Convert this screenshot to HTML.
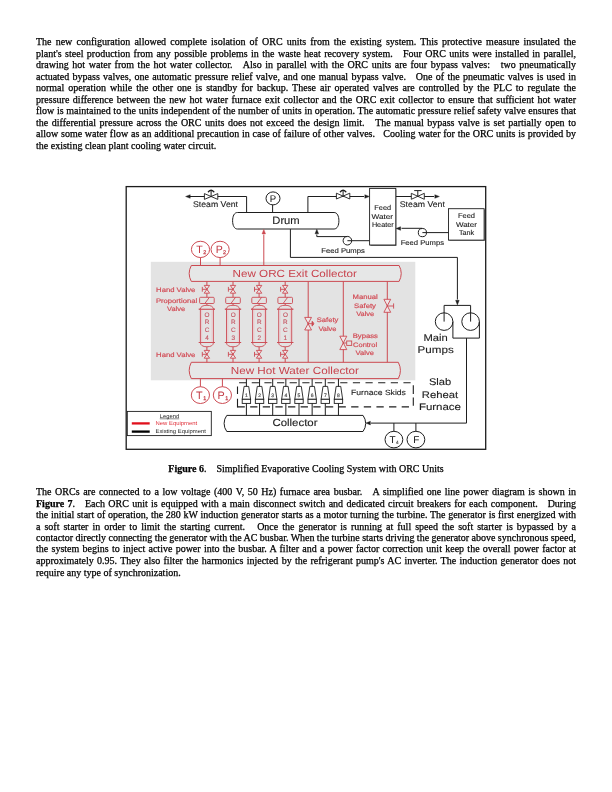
<!DOCTYPE html>
<html><head><meta charset="utf-8"><style>
html,body{margin:0;padding:0;background:#fff;}
body{width:612px;height:792px;position:relative;overflow:hidden;font-family:"Liberation Serif",serif;color:#000;}
.l{position:absolute;left:36px;width:540px;font-size:10px;-webkit-text-stroke:0.25px #000;line-height:11.5px;white-space:nowrap;text-align:justify;text-align-last:justify;}
.l.last{text-align-last:left;}
.cap{-webkit-text-stroke:0.25px #000;position:absolute;left:0;width:612px;text-align:center;font-size:10px;line-height:11.5px;}
svg{position:absolute;left:0;top:0;}
body>*{will-change:transform;}
</style></head><body>
<div class="l" style="top:36.00px">The new configuration allowed complete isolation of ORC units from the existing system. This protective measure insulated the</div>
<div class="l" style="top:48.00px">plant's steel production from any possible problems in the waste heat recovery system. &nbsp; Four ORC units were installed in parallel,</div>
<div class="l" style="top:59.00px">drawing hot water from the hot water collector. &nbsp; Also in parallel with the ORC units are four bypass valves: &nbsp; two pneumatically</div>
<div class="l" style="top:71.00px">actuated bypass valves, one automatic pressure relief valve, and one manual bypass valve. &nbsp; One of the pneumatic valves is used in</div>
<div class="l" style="top:82.00px">normal operation while the other one is standby for backup. These air operated valves are controlled by the PLC to regulate the</div>
<div class="l" style="top:94.00px">pressure difference between the new hot water furnace exit collector and the ORC exit collector to ensure that sufficient hot water</div>
<div class="l" style="top:105.00px">flow is maintained to the units independent of the number of units in operation. The automatic pressure relief safety valve ensures that</div>
<div class="l" style="top:117.00px">the differential pressure across the ORC units does not exceed the design limit. &nbsp; The manual bypass valve is set partially open to</div>
<div class="l" style="top:128.00px">allow some water flow as an additional precaution in case of failure of other valves. &nbsp; Cooling water for the ORC units is provided by</div>
<div class="l last" style="top:140.00px">the existing clean plant cooling water circuit.</div>
<svg width="612" height="792" viewBox="0 0 612 792" style="position:absolute;left:0;top:0" font-family="Liberation Sans, sans-serif" text-rendering="geometricPrecision">
<rect x="150.8" y="261.8" width="264.5" height="118.5" fill="#e3e3e3"/>
<rect x="126.2" y="186.6" width="359.5" height="262.7" fill="none" stroke="#1c1c1c" stroke-width="1.3"/>
<polyline points="246.6,212.5 246.6,196.5 188,196.5" stroke="#1e1e1e" stroke-width="1.0" fill="none" />
<polygon points="185.6,196.5 190.2,194.7 190.2,198.3" stroke="#1e1e1e" stroke-width="0.4" fill="#1e1e1e"/>
<polygon points="204.4,193.6 217.79999999999998,199.4 217.79999999999998,193.6 204.4,199.4" stroke="#1e1e1e" stroke-width="0.9" fill="#fff"/>
<line x1="211.1" y1="196.5" x2="211.1" y2="190.6" stroke="#1e1e1e" stroke-width="1.0" />
<path d="M208.4,191.7 Q211.1,188.7 213.8,191.7" stroke="#1e1e1e" stroke-width="1.4" fill="none" stroke-linecap="round"/>
<text x="193" y="206.7" font-size="8.2" fill="#1e1e1e" stroke="#1e1e1e" stroke-width="0.12" textLength="45" lengthAdjust="spacingAndGlyphs" >Steam Vent</text>
<ellipse cx="273" cy="198.4" rx="7" ry="6.5" stroke="#1e1e1e" stroke-width="1.0" fill="none"/>
<line x1="272.6" y1="204.9" x2="272.6" y2="212.5" stroke="#1e1e1e" stroke-width="1.0" />
<text x="272.9" y="201.8" font-size="9.6" fill="#111" stroke="#111" stroke-width="0" text-anchor="middle">P</text>
<path d="M237.4,212.5 H334.09999999999997 C337.21999999999997,212.5 338.9,216.13 338.9,220.75 C338.9,225.37 337.21999999999997,229.0 334.09999999999997,229.0 H237.4 C234.28,229.0 232.6,225.37 232.6,220.75 C232.6,216.13 234.28,212.5 237.4,212.5 Z" stroke="#1e1e1e" stroke-width="1.0" fill="#fff"/>
<text x="272.3" y="223.7" font-size="10.7" fill="#1e1e1e" stroke="#1e1e1e" stroke-width="0.12" textLength="27.4" lengthAdjust="spacingAndGlyphs" >Drum</text>
<polyline points="307.9,212.5 307.9,196.5 364,196.5" stroke="#1e1e1e" stroke-width="1.0" fill="none" />
<polygon points="369.4,196.5 364.79999999999995,194.7 364.79999999999995,198.3" stroke="#1e1e1e" stroke-width="0.4" fill="#1e1e1e"/>
<polygon points="336.40000000000003,193.2 349.8,199.0 349.8,193.2 336.40000000000003,199.0" stroke="#1e1e1e" stroke-width="0.9" fill="#fff"/>
<line x1="343.1" y1="196.1" x2="343.1" y2="190.6" stroke="#1e1e1e" stroke-width="1.0" />
<path d="M340.4,191.7 Q343.1,188.7 345.8,191.7" stroke="#1e1e1e" stroke-width="1.4" fill="none" stroke-linecap="round"/>
<rect x="370.4" y="189.4" width="26" height="56.6" fill="#777"/>
<rect x="369.6" y="188.4" width="26.2" height="56.6" fill="#fff" stroke="#1e1e1e" stroke-width="0.9"/>
<text x="374.3" y="209.6" font-size="7.0" fill="#1e1e1e" stroke="#1e1e1e" stroke-width="0.12" textLength="16.8" lengthAdjust="spacingAndGlyphs" >Feed</text>
<text x="371.5" y="218.7" font-size="7.0" fill="#1e1e1e" stroke="#1e1e1e" stroke-width="0.12" textLength="21.6" lengthAdjust="spacingAndGlyphs" >Water</text>
<text x="371.9" y="226.9" font-size="7.0" fill="#1e1e1e" stroke="#1e1e1e" stroke-width="0.12" textLength="21.7" lengthAdjust="spacingAndGlyphs" >Heater</text>
<line x1="396" y1="196.5" x2="434" y2="196.5" stroke="#1e1e1e" stroke-width="1.0" />
<polygon points="439.4,196.5 434.79999999999995,194.7 434.79999999999995,198.3" stroke="#1e1e1e" stroke-width="0.4" fill="#1e1e1e"/>
<polygon points="411.3,193.3 424.3,199.3 424.3,193.3 411.3,199.3" stroke="#1e1e1e" stroke-width="0.9" fill="#fff"/>
<line x1="417.8" y1="196.3" x2="417.8" y2="190.6" stroke="#1e1e1e" stroke-width="1.0" />
<line x1="414.2" y1="190.6" x2="421.6" y2="190.6" stroke="#1e1e1e" stroke-width="1.0" />
<text x="399.8" y="206.6" font-size="8.2" fill="#1e1e1e" stroke="#1e1e1e" stroke-width="0.12" textLength="45.1" lengthAdjust="spacingAndGlyphs" >Steam Vent</text>
<rect x="449.3" y="209.5" width="35.6" height="31.4" fill="#777"/>
<rect x="448.5" y="208.7" width="35.6" height="31.4" fill="#fff" stroke="#1e1e1e" stroke-width="0.9"/>
<text x="457.9" y="218.3" font-size="7.0" fill="#1e1e1e" stroke="#1e1e1e" stroke-width="0.12" textLength="17.1" lengthAdjust="spacingAndGlyphs" >Feed</text>
<text x="455.9" y="226.9" font-size="7.0" fill="#1e1e1e" stroke="#1e1e1e" stroke-width="0.12" textLength="21.1" lengthAdjust="spacingAndGlyphs" >Water</text>
<text x="458.9" y="235.3" font-size="7.0" fill="#1e1e1e" stroke="#1e1e1e" stroke-width="0.12" textLength="15.3" lengthAdjust="spacingAndGlyphs" >Tank</text>
<line x1="448.5" y1="232.6" x2="422.4" y2="232.6" stroke="#1e1e1e" stroke-width="1.0" />
<polyline points="422.4,228.3 401.5,228.3" stroke="#1e1e1e" stroke-width="1.0" fill="none" />
<polygon points="396,228.5 400.6,226.7 400.6,230.3" stroke="#1e1e1e" stroke-width="0.4" fill="#1e1e1e"/>
<circle cx="422.4" cy="232.6" r="4.1" stroke="#1e1e1e" stroke-width="1.0" fill="none"/>
<text x="400.7" y="244.6" font-size="6.9" fill="#1e1e1e" stroke="#1e1e1e" stroke-width="0.12" textLength="43.4" lengthAdjust="spacingAndGlyphs" >Feed Pumps</text>
<line x1="369.4" y1="240.7" x2="347.4" y2="240.7" stroke="#1e1e1e" stroke-width="1.0" />
<polyline points="347.4,236.6 316.8,236.6 316.8,234.5" stroke="#1e1e1e" stroke-width="1.0" fill="none" />
<polygon points="316.8,229.2 315.0,233.79999999999998 318.6,233.79999999999998" stroke="#1e1e1e" stroke-width="0.4" fill="#1e1e1e"/>
<circle cx="347.4" cy="240.7" r="4.3" stroke="#1e1e1e" stroke-width="1.0" fill="none"/>
<text x="321.3" y="252.7" font-size="6.9" fill="#1e1e1e" stroke="#1e1e1e" stroke-width="0.12" textLength="43.6" lengthAdjust="spacingAndGlyphs" >Feed Pumps</text>
<polyline points="290.4,229.1 290.4,257.4 457.4,257.4 457.4,299.5" stroke="#1e1e1e" stroke-width="1.0" fill="none" />
<polygon points="457.4,304.9 455.59999999999997,300.29999999999995 459.2,300.29999999999995" stroke="#1e1e1e" stroke-width="0.4" fill="#1e1e1e"/>
<polyline points="444.1,321.6 444.1,305.4 470.6,305.4 470.6,321.6" stroke="#1e1e1e" stroke-width="1.0" fill="none" />
<circle cx="444.1" cy="321.6" r="8.8" stroke="#1e1e1e" stroke-width="1.0" fill="none"/>
<circle cx="470.6" cy="321.6" r="8.8" stroke="#1e1e1e" stroke-width="1.0" fill="none"/>
<polyline points="452.9,321.6 452.9,338.1 479.4,338.1 479.4,321.6" stroke="#1e1e1e" stroke-width="1.0" fill="none" />
<polyline points="466.5,338.1 466.5,423.1 371,423.1" stroke="#1e1e1e" stroke-width="1.0" fill="none" />
<polygon points="365.8,423.1 370.40000000000003,421.3 370.40000000000003,424.90000000000003" stroke="#1e1e1e" stroke-width="0.4" fill="#1e1e1e"/>
<text x="423.5" y="340.7" font-size="9.9" fill="#1e1e1e" stroke="#1e1e1e" stroke-width="0.12" textLength="24.3" lengthAdjust="spacingAndGlyphs" >Main</text>
<text x="417.6" y="353.2" font-size="9.9" fill="#1e1e1e" stroke="#1e1e1e" stroke-width="0.12" textLength="36.1" lengthAdjust="spacingAndGlyphs" >Pumps</text>
<text x="428.9" y="384.7" font-size="9.6" fill="#1e1e1e" stroke="#1e1e1e" stroke-width="0.12" textLength="22.3" lengthAdjust="spacingAndGlyphs" >Slab</text>
<text x="421.8" y="397.5" font-size="9.6" fill="#1e1e1e" stroke="#1e1e1e" stroke-width="0.12" textLength="36.3" lengthAdjust="spacingAndGlyphs" >Reheat</text>
<text x="418.9" y="410.4" font-size="9.6" fill="#1e1e1e" stroke="#1e1e1e" stroke-width="0.12" textLength="42.1" lengthAdjust="spacingAndGlyphs" >Furnace</text>
<line x1="393.9" y1="423.1" x2="393.9" y2="431.3" stroke="#1e1e1e" stroke-width="1.0" />
<line x1="415.9" y1="423.1" x2="415.9" y2="431.3" stroke="#1e1e1e" stroke-width="1.0" />
<ellipse cx="393.9" cy="439.6" rx="8.9" ry="8.3" stroke="#1e1e1e" stroke-width="1.0" fill="none"/>
<ellipse cx="415.9" cy="439.6" rx="8.9" ry="8.3" stroke="#1e1e1e" stroke-width="1.0" fill="none"/>
<text x="392.5" y="442.7" font-size="10" fill="#111" stroke="#111" stroke-width="0" text-anchor="middle">T</text>
<text x="397.4" y="443.8" font-size="4.6" fill="#555" stroke="#555" stroke-width="0.2" text-anchor="middle">4</text>
<text x="416.2" y="442.7" font-size="10" fill="#111" stroke="#111" stroke-width="0" text-anchor="middle">F</text>
<line x1="239.1" y1="382.7" x2="413.3" y2="382.7" stroke="#1e1e1e" stroke-width="1.1" stroke-dasharray="7.2 5.44"/>
<line x1="237.5" y1="406.9" x2="413.3" y2="406.9" stroke="#1e1e1e" stroke-width="1.1" stroke-dasharray="7.3 5.33"/>
<line x1="237.5" y1="407.4" x2="237.5" y2="382.8" stroke="#1e1e1e" stroke-width="1.1" stroke-dasharray="8.6 4.9 7.4 10"/>
<line x1="413.3" y1="385.3" x2="413.3" y2="394" stroke="#1e1e1e" stroke-width="1.1" />
<line x1="413.3" y1="397.6" x2="413.3" y2="405.7" stroke="#1e1e1e" stroke-width="1.1" />
<path d="M226.79999999999998,415.4 H363.0 A13.35,13.35 0 0 1 363.0,431.5 H226.79999999999998 A13.35,13.35 0 0 1 226.79999999999998,415.4 Z" stroke="#1e1e1e" stroke-width="1.0" fill="#fff" stroke-linejoin="round"/>
<text x="272.4" y="426.4" font-size="10.2" fill="#1e1e1e" stroke="#1e1e1e" stroke-width="0.12" textLength="45.1" lengthAdjust="spacingAndGlyphs" >Collector</text>
<line x1="246.4" y1="378.6" x2="246.4" y2="415.4" stroke="#1e1e1e" stroke-width="1.0" />
<path d="M244.1,386.4 H248.70000000000002 L250.6,399.3 H242.20000000000002 Z" stroke="#1e1e1e" stroke-width="0.9" fill="#fff" stroke-linejoin="round"/>
<rect x="242.20000000000002" y="399.3" width="8.4" height="4.1" stroke="#1e1e1e" stroke-width="0.9" fill="#fff"/>
<text x="246.4" y="396.6" font-size="5" fill="#555" stroke="#555" stroke-width="0.22" text-anchor="middle" >1</text>
<line x1="259.55" y1="378.6" x2="259.55" y2="415.4" stroke="#1e1e1e" stroke-width="1.0" />
<path d="M257.25,386.4 H261.85 L263.75,399.3 H255.35000000000002 Z" stroke="#1e1e1e" stroke-width="0.9" fill="#fff" stroke-linejoin="round"/>
<rect x="255.35000000000002" y="399.3" width="8.4" height="4.1" stroke="#1e1e1e" stroke-width="0.9" fill="#fff"/>
<text x="259.55" y="396.6" font-size="5" fill="#555" stroke="#555" stroke-width="0.22" text-anchor="middle" >2</text>
<line x1="272.7" y1="378.6" x2="272.7" y2="415.4" stroke="#1e1e1e" stroke-width="1.0" />
<path d="M270.4,386.4 H275.0 L276.9,399.3 H268.5 Z" stroke="#1e1e1e" stroke-width="0.9" fill="#fff" stroke-linejoin="round"/>
<rect x="268.5" y="399.3" width="8.4" height="4.1" stroke="#1e1e1e" stroke-width="0.9" fill="#fff"/>
<text x="272.7" y="396.6" font-size="5" fill="#555" stroke="#555" stroke-width="0.22" text-anchor="middle" >3</text>
<line x1="285.85" y1="378.6" x2="285.85" y2="415.4" stroke="#1e1e1e" stroke-width="1.0" />
<path d="M283.55,386.4 H288.15000000000003 L290.05,399.3 H281.65000000000003 Z" stroke="#1e1e1e" stroke-width="0.9" fill="#fff" stroke-linejoin="round"/>
<rect x="281.65000000000003" y="399.3" width="8.4" height="4.1" stroke="#1e1e1e" stroke-width="0.9" fill="#fff"/>
<text x="285.85" y="396.6" font-size="5" fill="#555" stroke="#555" stroke-width="0.22" text-anchor="middle" >4</text>
<line x1="299.0" y1="378.6" x2="299.0" y2="415.4" stroke="#1e1e1e" stroke-width="1.0" />
<path d="M296.7,386.4 H301.3 L303.2,399.3 H294.8 Z" stroke="#1e1e1e" stroke-width="0.9" fill="#fff" stroke-linejoin="round"/>
<rect x="294.8" y="399.3" width="8.4" height="4.1" stroke="#1e1e1e" stroke-width="0.9" fill="#fff"/>
<text x="299.0" y="396.6" font-size="5" fill="#555" stroke="#555" stroke-width="0.22" text-anchor="middle" >5</text>
<line x1="312.15" y1="378.6" x2="312.15" y2="415.4" stroke="#1e1e1e" stroke-width="1.0" />
<path d="M309.84999999999997,386.4 H314.45 L316.34999999999997,399.3 H307.95 Z" stroke="#1e1e1e" stroke-width="0.9" fill="#fff" stroke-linejoin="round"/>
<rect x="307.95" y="399.3" width="8.4" height="4.1" stroke="#1e1e1e" stroke-width="0.9" fill="#fff"/>
<text x="312.15" y="396.6" font-size="5" fill="#555" stroke="#555" stroke-width="0.22" text-anchor="middle" >6</text>
<line x1="325.3" y1="378.6" x2="325.3" y2="415.4" stroke="#1e1e1e" stroke-width="1.0" />
<path d="M323.0,386.4 H327.6 L329.5,399.3 H321.1 Z" stroke="#1e1e1e" stroke-width="0.9" fill="#fff" stroke-linejoin="round"/>
<rect x="321.1" y="399.3" width="8.4" height="4.1" stroke="#1e1e1e" stroke-width="0.9" fill="#fff"/>
<text x="325.3" y="396.6" font-size="5" fill="#555" stroke="#555" stroke-width="0.22" text-anchor="middle" >7</text>
<line x1="338.45" y1="378.6" x2="338.45" y2="415.4" stroke="#1e1e1e" stroke-width="1.0" />
<path d="M336.15,386.4 H340.75 L342.65,399.3 H334.25 Z" stroke="#1e1e1e" stroke-width="0.9" fill="#fff" stroke-linejoin="round"/>
<rect x="334.25" y="399.3" width="8.4" height="4.1" stroke="#1e1e1e" stroke-width="0.9" fill="#fff"/>
<text x="338.45" y="396.6" font-size="5" fill="#555" stroke="#555" stroke-width="0.22" text-anchor="middle" >8</text>
<text x="351" y="394.6" font-size="7.6" fill="#1e1e1e" stroke="#1e1e1e" stroke-width="0.12" textLength="54.9" lengthAdjust="spacingAndGlyphs" >Furnace Skids</text>
<rect x="127.3" y="411.4" width="84" height="24.2" fill="#fff" stroke="#1e1e1e" stroke-width="0.9"/>
<text x="159.8" y="417.9" font-size="5.5" fill="#1e1e1e" stroke="#1e1e1e" stroke-width="0" textLength="19.4" lengthAdjust="spacingAndGlyphs" >Legend</text>
<line x1="159.8" y1="418.8" x2="179.2" y2="418.8" stroke="#1e1e1e" stroke-width="0.5" />
<line x1="131.8" y1="423.4" x2="149.7" y2="423.4" stroke="#e0101c" stroke-width="2.3" />
<line x1="131.8" y1="431.6" x2="149.7" y2="431.6" stroke="#000" stroke-width="2.3" />
<text x="155.5" y="425.0" font-size="5.6" fill="#e0303a" stroke="#e0303a" stroke-width="0" textLength="41.7" lengthAdjust="spacingAndGlyphs" >New Equipment</text>
<text x="155.5" y="433.0" font-size="5.6" fill="#1e1e1e" stroke="#1e1e1e" stroke-width="0" textLength="50.4" lengthAdjust="spacingAndGlyphs" >Existing Equipment</text>
<ellipse cx="200.5" cy="249.4" rx="9.1" ry="8.15" stroke="#cc4a52" stroke-width="1.0" fill="none"/>
<ellipse cx="220.1" cy="249.4" rx="9.1" ry="8.15" stroke="#cc4a52" stroke-width="1.0" fill="none"/>
<line x1="200.5" y1="257.5" x2="200.5" y2="265.3" stroke="#cc4a52" stroke-width="1.0" />
<line x1="220.1" y1="257.5" x2="220.1" y2="265.3" stroke="#cc4a52" stroke-width="1.0" />
<text x="199.5" y="253.1" font-size="10.6" fill="#c23a44" stroke="#c23a44" stroke-width="0" text-anchor="middle">T</text>
<text x="204.8" y="254.1" font-size="5.4" fill="#c23a44" stroke="#c23a44" stroke-width="0.25" text-anchor="middle">2</text>
<text x="219.2" y="253.1" font-size="10.6" fill="#c23a44" stroke="#c23a44" stroke-width="0" text-anchor="middle">P</text>
<text x="224.5" y="254.1" font-size="5.4" fill="#c23a44" stroke="#c23a44" stroke-width="0.25" text-anchor="middle">2</text>
<line x1="263.8" y1="265.3" x2="263.8" y2="234.5" stroke="#cc4a52" stroke-width="1.0" />
<polygon points="263.8,229.3 262.0,233.9 265.6,233.9" stroke="#cc4a52" stroke-width="0.4" fill="#cc4a52"/>
<path d="M191.3,265.5 H399.1 A16.80,16.80 0 0 1 399.1,281.4 H191.3 A16.80,16.80 0 0 1 191.3,265.5 Z" stroke="#cc4a52" stroke-width="1.0" fill="#e6e7e7" stroke-linejoin="round"/>
<text x="232.5" y="276.7" font-size="10.3" fill="#c8424c" stroke="#c8424c" stroke-width="0" textLength="124.4" lengthAdjust="spacingAndGlyphs" >New ORC Exit Collector</text>
<path d="M191.3,362.3 H398.3 A17.61,17.61 0 0 1 398.3,378.6 H191.3 A17.61,17.61 0 0 1 191.3,362.3 Z" stroke="#cc4a52" stroke-width="1.0" fill="#e6e7e7" stroke-linejoin="round"/>
<text x="230.7" y="373.7" font-size="10.3" fill="#c8424c" stroke="#c8424c" stroke-width="0" textLength="128.2" lengthAdjust="spacingAndGlyphs" >New Hot Water Collector</text>
<line x1="206.9" y1="281.5" x2="206.9" y2="362.2" stroke="#cc4a52" stroke-width="1.0" />
<polygon points="204.20000000000002,285.40000000000003 209.6,285.40000000000003 204.20000000000002,293.2 209.6,293.2" stroke="#cc4a52" stroke-width="0.9" fill="#efe6e7"/>
<line x1="202.3" y1="289.3" x2="206.9" y2="289.3" stroke="#cc4a52" stroke-width="0.9" />
<line x1="202.3" y1="286.90000000000003" x2="202.3" y2="291.7" stroke="#cc4a52" stroke-width="0.9" />
<polygon points="204.20000000000002,350.40000000000003 209.6,350.40000000000003 204.20000000000002,358.2 209.6,358.2" stroke="#cc4a52" stroke-width="0.9" fill="#efe6e7"/>
<line x1="202.3" y1="354.3" x2="206.9" y2="354.3" stroke="#cc4a52" stroke-width="0.9" />
<line x1="202.3" y1="351.90000000000003" x2="202.3" y2="356.7" stroke="#cc4a52" stroke-width="0.9" />
<rect x="199.6" y="297.3" width="14.6" height="6.2" rx="1" stroke="#cc4a52" stroke-width="0.9" fill="#e3e3e3"/>
<line x1="204.8" y1="303.5" x2="209.4" y2="297.3" stroke="#cc4a52" stroke-width="0.9" />
<path d="M200.4,309.2 V342.5 H213.4 V309.2 Z" stroke="#cc4a52" stroke-width="0.9" fill="#e3e3e3"/>
<line x1="201.70000000000002" y1="309.8" x2="201.70000000000002" y2="342" stroke="#ecc4c9" stroke-width="0.9" />
<line x1="212.1" y1="309.8" x2="212.1" y2="342" stroke="#ecc4c9" stroke-width="0.9" />
<path d="M198.8,309.2 L200.3,309.2 Q200.70000000000002,305.3 206.9,305.3 Q213.1,305.3 213.5,309.2 L215.0,309.2 Z" stroke="#cc4a52" stroke-width="0.9" fill="#e3e3e3"/>
<path d="M198.8,342.5 L200.3,342.5 Q200.70000000000002,346.8 206.9,346.8 Q213.1,346.8 213.5,342.5 L215.0,342.5 Z" stroke="#cc4a52" stroke-width="0.9" fill="#e3e3e3"/>
<text x="207.1" y="316.6" font-size="6.4" fill="#c65562" stroke="#c65562" stroke-width="0.12" text-anchor="middle">O</text>
<text x="207.1" y="324.3" font-size="6.4" fill="#c65562" stroke="#c65562" stroke-width="0.12" text-anchor="middle">R</text>
<text x="207.1" y="332.0" font-size="6.4" fill="#c65562" stroke="#c65562" stroke-width="0.12" text-anchor="middle">C</text>
<text x="207.1" y="339.70000000000005" font-size="6.4" fill="#c65562" stroke="#c65562" stroke-width="0.12" text-anchor="middle">4</text>
<line x1="233.0" y1="281.5" x2="233.0" y2="362.2" stroke="#cc4a52" stroke-width="1.0" />
<polygon points="230.3,285.40000000000003 235.7,285.40000000000003 230.3,293.2 235.7,293.2" stroke="#cc4a52" stroke-width="0.9" fill="#efe6e7"/>
<line x1="228.4" y1="289.3" x2="233.0" y2="289.3" stroke="#cc4a52" stroke-width="0.9" />
<line x1="228.4" y1="286.90000000000003" x2="228.4" y2="291.7" stroke="#cc4a52" stroke-width="0.9" />
<polygon points="230.3,350.40000000000003 235.7,350.40000000000003 230.3,358.2 235.7,358.2" stroke="#cc4a52" stroke-width="0.9" fill="#efe6e7"/>
<line x1="228.4" y1="354.3" x2="233.0" y2="354.3" stroke="#cc4a52" stroke-width="0.9" />
<line x1="228.4" y1="351.90000000000003" x2="228.4" y2="356.7" stroke="#cc4a52" stroke-width="0.9" />
<rect x="225.7" y="297.3" width="14.6" height="6.2" rx="1" stroke="#cc4a52" stroke-width="0.9" fill="#e3e3e3"/>
<line x1="230.9" y1="303.5" x2="235.5" y2="297.3" stroke="#cc4a52" stroke-width="0.9" />
<path d="M226.5,309.2 V342.5 H239.5 V309.2 Z" stroke="#cc4a52" stroke-width="0.9" fill="#e3e3e3"/>
<line x1="227.8" y1="309.8" x2="227.8" y2="342" stroke="#ecc4c9" stroke-width="0.9" />
<line x1="238.2" y1="309.8" x2="238.2" y2="342" stroke="#ecc4c9" stroke-width="0.9" />
<path d="M224.9,309.2 L226.4,309.2 Q226.8,305.3 233.0,305.3 Q239.2,305.3 239.6,309.2 L241.1,309.2 Z" stroke="#cc4a52" stroke-width="0.9" fill="#e3e3e3"/>
<path d="M224.9,342.5 L226.4,342.5 Q226.8,346.8 233.0,346.8 Q239.2,346.8 239.6,342.5 L241.1,342.5 Z" stroke="#cc4a52" stroke-width="0.9" fill="#e3e3e3"/>
<text x="233.2" y="316.6" font-size="6.4" fill="#c65562" stroke="#c65562" stroke-width="0.12" text-anchor="middle">O</text>
<text x="233.2" y="324.3" font-size="6.4" fill="#c65562" stroke="#c65562" stroke-width="0.12" text-anchor="middle">R</text>
<text x="233.2" y="332.0" font-size="6.4" fill="#c65562" stroke="#c65562" stroke-width="0.12" text-anchor="middle">C</text>
<text x="233.2" y="339.70000000000005" font-size="6.4" fill="#c65562" stroke="#c65562" stroke-width="0.12" text-anchor="middle">3</text>
<line x1="259.1" y1="281.5" x2="259.1" y2="362.2" stroke="#cc4a52" stroke-width="1.0" />
<polygon points="256.40000000000003,285.40000000000003 261.8,285.40000000000003 256.40000000000003,293.2 261.8,293.2" stroke="#cc4a52" stroke-width="0.9" fill="#efe6e7"/>
<line x1="254.50000000000003" y1="289.3" x2="259.1" y2="289.3" stroke="#cc4a52" stroke-width="0.9" />
<line x1="254.50000000000003" y1="286.90000000000003" x2="254.50000000000003" y2="291.7" stroke="#cc4a52" stroke-width="0.9" />
<polygon points="256.40000000000003,350.40000000000003 261.8,350.40000000000003 256.40000000000003,358.2 261.8,358.2" stroke="#cc4a52" stroke-width="0.9" fill="#efe6e7"/>
<line x1="254.50000000000003" y1="354.3" x2="259.1" y2="354.3" stroke="#cc4a52" stroke-width="0.9" />
<line x1="254.50000000000003" y1="351.90000000000003" x2="254.50000000000003" y2="356.7" stroke="#cc4a52" stroke-width="0.9" />
<rect x="251.8" y="297.3" width="14.6" height="6.2" rx="1" stroke="#cc4a52" stroke-width="0.9" fill="#e3e3e3"/>
<line x1="257.0" y1="303.5" x2="261.6" y2="297.3" stroke="#cc4a52" stroke-width="0.9" />
<path d="M252.60000000000002,309.2 V342.5 H265.6 V309.2 Z" stroke="#cc4a52" stroke-width="0.9" fill="#e3e3e3"/>
<line x1="253.90000000000003" y1="309.8" x2="253.90000000000003" y2="342" stroke="#ecc4c9" stroke-width="0.9" />
<line x1="264.3" y1="309.8" x2="264.3" y2="342" stroke="#ecc4c9" stroke-width="0.9" />
<path d="M251.00000000000003,309.2 L252.50000000000003,309.2 Q252.90000000000003,305.3 259.1,305.3 Q265.3,305.3 265.70000000000005,309.2 L267.20000000000005,309.2 Z" stroke="#cc4a52" stroke-width="0.9" fill="#e3e3e3"/>
<path d="M251.00000000000003,342.5 L252.50000000000003,342.5 Q252.90000000000003,346.8 259.1,346.8 Q265.3,346.8 265.70000000000005,342.5 L267.20000000000005,342.5 Z" stroke="#cc4a52" stroke-width="0.9" fill="#e3e3e3"/>
<text x="259.3" y="316.6" font-size="6.4" fill="#c65562" stroke="#c65562" stroke-width="0.12" text-anchor="middle">O</text>
<text x="259.3" y="324.3" font-size="6.4" fill="#c65562" stroke="#c65562" stroke-width="0.12" text-anchor="middle">R</text>
<text x="259.3" y="332.0" font-size="6.4" fill="#c65562" stroke="#c65562" stroke-width="0.12" text-anchor="middle">C</text>
<text x="259.3" y="339.70000000000005" font-size="6.4" fill="#c65562" stroke="#c65562" stroke-width="0.12" text-anchor="middle">2</text>
<line x1="285.2" y1="281.5" x2="285.2" y2="362.2" stroke="#cc4a52" stroke-width="1.0" />
<polygon points="282.5,285.40000000000003 287.9,285.40000000000003 282.5,293.2 287.9,293.2" stroke="#cc4a52" stroke-width="0.9" fill="#efe6e7"/>
<line x1="280.59999999999997" y1="289.3" x2="285.2" y2="289.3" stroke="#cc4a52" stroke-width="0.9" />
<line x1="280.59999999999997" y1="286.90000000000003" x2="280.59999999999997" y2="291.7" stroke="#cc4a52" stroke-width="0.9" />
<polygon points="282.5,350.40000000000003 287.9,350.40000000000003 282.5,358.2 287.9,358.2" stroke="#cc4a52" stroke-width="0.9" fill="#efe6e7"/>
<line x1="280.59999999999997" y1="354.3" x2="285.2" y2="354.3" stroke="#cc4a52" stroke-width="0.9" />
<line x1="280.59999999999997" y1="351.90000000000003" x2="280.59999999999997" y2="356.7" stroke="#cc4a52" stroke-width="0.9" />
<rect x="277.9" y="297.3" width="14.6" height="6.2" rx="1" stroke="#cc4a52" stroke-width="0.9" fill="#e3e3e3"/>
<line x1="283.09999999999997" y1="303.5" x2="287.7" y2="297.3" stroke="#cc4a52" stroke-width="0.9" />
<path d="M278.7,309.2 V342.5 H291.7 V309.2 Z" stroke="#cc4a52" stroke-width="0.9" fill="#e3e3e3"/>
<line x1="280.0" y1="309.8" x2="280.0" y2="342" stroke="#ecc4c9" stroke-width="0.9" />
<line x1="290.4" y1="309.8" x2="290.4" y2="342" stroke="#ecc4c9" stroke-width="0.9" />
<path d="M277.09999999999997,309.2 L278.59999999999997,309.2 Q279.0,305.3 285.2,305.3 Q291.4,305.3 291.8,309.2 L293.3,309.2 Z" stroke="#cc4a52" stroke-width="0.9" fill="#e3e3e3"/>
<path d="M277.09999999999997,342.5 L278.59999999999997,342.5 Q279.0,346.8 285.2,346.8 Q291.4,346.8 291.8,342.5 L293.3,342.5 Z" stroke="#cc4a52" stroke-width="0.9" fill="#e3e3e3"/>
<text x="285.4" y="316.6" font-size="6.4" fill="#c65562" stroke="#c65562" stroke-width="0.12" text-anchor="middle">O</text>
<text x="285.4" y="324.3" font-size="6.4" fill="#c65562" stroke="#c65562" stroke-width="0.12" text-anchor="middle">R</text>
<text x="285.4" y="332.0" font-size="6.4" fill="#c65562" stroke="#c65562" stroke-width="0.12" text-anchor="middle">C</text>
<text x="285.4" y="339.70000000000005" font-size="6.4" fill="#c65562" stroke="#c65562" stroke-width="0.12" text-anchor="middle">1</text>
<line x1="308.2" y1="281.5" x2="308.2" y2="362.2" stroke="#cc4a52" stroke-width="1.0" />
<line x1="343.3" y1="281.5" x2="343.3" y2="362.2" stroke="#cc4a52" stroke-width="1.0" />
<line x1="387.3" y1="281.5" x2="387.3" y2="362.2" stroke="#cc4a52" stroke-width="1.0" />
<polygon points="304.70000000000005,317.4 311.5,317.4 304.70000000000005,330.0 311.5,330.0" stroke="#cc4a52" stroke-width="0.9" fill="#efe6e7"/>
<line x1="308.1" y1="323.7" x2="312.3" y2="323.7" stroke="#cc4a52" stroke-width="0.9" />
<path d="M312,321.3 Q315.6,323.7 312,326.1 Z" stroke="#cc4a52" stroke-width="0.8" fill="#cc4a52"/>
<polygon points="339.8,336.2 346.8,336.2 339.8,349.59999999999997 346.8,349.59999999999997" stroke="#cc4a52" stroke-width="0.9" fill="#efe6e7"/>
<line x1="343.3" y1="343" x2="346.7" y2="343" stroke="#cc4a52" stroke-width="0.9" />
<rect x="346.7" y="341" width="5" height="4.4" stroke="#cc4a52" stroke-width="0.9" fill="#e3e3e3"/>
<polygon points="383.90000000000003,299.3 390.7,299.3 383.90000000000003,312.3 390.7,312.3" stroke="#cc4a52" stroke-width="0.9" fill="#efe6e7"/>
<line x1="387.3" y1="306" x2="393.6" y2="306" stroke="#cc4a52" stroke-width="0.9" />
<line x1="393.6" y1="303.4" x2="393.6" y2="308.6" stroke="#cc4a52" stroke-width="0.9" />
<text x="156.1" y="291.9" font-size="6.5" fill="#d24a54" stroke="#d24a54" stroke-width="0.18" textLength="39.2" lengthAdjust="spacingAndGlyphs" >Hand Valve</text>
<text x="155.9" y="302.5" font-size="6.5" fill="#d24a54" stroke="#d24a54" stroke-width="0.18" textLength="41.2" lengthAdjust="spacingAndGlyphs" >Proportional</text>
<text x="167.1" y="311.2" font-size="6.5" fill="#d24a54" stroke="#d24a54" stroke-width="0.18" textLength="18.0" lengthAdjust="spacingAndGlyphs" >Valve</text>
<text x="156.1" y="356.7" font-size="6.5" fill="#d24a54" stroke="#d24a54" stroke-width="0.18" textLength="39.2" lengthAdjust="spacingAndGlyphs" >Hand Valve</text>
<text x="316.7" y="321.9" font-size="6.5" fill="#d24a54" stroke="#d24a54" stroke-width="0.18" textLength="21.7" lengthAdjust="spacingAndGlyphs" >Safety</text>
<text x="318.4" y="330.5" font-size="6.5" fill="#d24a54" stroke="#d24a54" stroke-width="0.18" textLength="18.0" lengthAdjust="spacingAndGlyphs" >Valve</text>
<text x="352.6" y="299.3" font-size="6.5" fill="#d24a54" stroke="#d24a54" stroke-width="0.18" textLength="25.2" lengthAdjust="spacingAndGlyphs" >Manual</text>
<text x="354" y="307.8" font-size="6.5" fill="#d24a54" stroke="#d24a54" stroke-width="0.18" textLength="22" lengthAdjust="spacingAndGlyphs" >Safety</text>
<text x="356.2" y="315.9" font-size="6.5" fill="#d24a54" stroke="#d24a54" stroke-width="0.18" textLength="18.0" lengthAdjust="spacingAndGlyphs" >Valve</text>
<text x="352.7" y="337.5" font-size="6.5" fill="#d24a54" stroke="#d24a54" stroke-width="0.18" textLength="25.3" lengthAdjust="spacingAndGlyphs" >Bypass</text>
<text x="353.1" y="346.5" font-size="6.5" fill="#d24a54" stroke="#d24a54" stroke-width="0.18" textLength="24.1" lengthAdjust="spacingAndGlyphs" >Control</text>
<text x="355.6" y="355.1" font-size="6.5" fill="#d24a54" stroke="#d24a54" stroke-width="0.18" textLength="18.3" lengthAdjust="spacingAndGlyphs" >Valve</text>
<line x1="200.4" y1="378.6" x2="200.4" y2="386.7" stroke="#cc4a52" stroke-width="1.0" />
<line x1="222.4" y1="378.6" x2="222.4" y2="386.7" stroke="#cc4a52" stroke-width="1.0" />
<ellipse cx="200.4" cy="395.1" rx="9.1" ry="8.4" stroke="#cc4a52" stroke-width="1.0" fill="none"/>
<ellipse cx="222.4" cy="395.1" rx="9.1" ry="8.4" stroke="#cc4a52" stroke-width="1.0" fill="none"/>
<text x="199.4" y="398.8" font-size="10.8" fill="#c23a44" stroke="#c23a44" stroke-width="0" text-anchor="middle">T</text>
<text x="204.7" y="399.8" font-size="5.4" fill="#c23a44" stroke="#c23a44" stroke-width="0.25" text-anchor="middle">1</text>
<text x="221.2" y="398.8" font-size="10.8" fill="#c23a44" stroke="#c23a44" stroke-width="0" text-anchor="middle">P</text>
<text x="226.8" y="399.8" font-size="5.4" fill="#c23a44" stroke="#c23a44" stroke-width="0.25" text-anchor="middle">1</text>
</svg>
<div class="cap" style="top:463px"><b>Figure 6</b>. &nbsp;&nbsp; Simplified Evaporative Cooling System with ORC Units</div>
<div class="l" style="top:486.00px">The ORCs are connected to a low voltage (400 V, 50 Hz) furnace area busbar. &nbsp; A simplified one line power diagram is shown in</div>
<div class="l" style="top:498.00px"><b>Figure 7</b>. &nbsp; Each ORC unit is equipped with a main disconnect switch and dedicated circuit breakers for each component. &nbsp; During</div>
<div class="l" style="top:509.00px">the initial start of operation, the 280 kW induction generator starts as a motor turning the turbine. The generator is first energized with</div>
<div class="l" style="top:521.00px">a soft starter in order to limit the starting current. &nbsp; Once the generator is running at full speed the soft starter is bypassed by a</div>
<div class="l" style="top:532.00px;word-spacing:-0.2px">contactor directly connecting the generator with the AC busbar. When the turbine starts driving the generator above synchronous speed,</div>
<div class="l" style="top:543.00px">the system begins to inject active power into the busbar. A filter and a power factor correction unit keep the overall power factor at</div>
<div class="l" style="top:555.00px">approximately 0.95. They also filter the harmonics injected by the refrigerant pump's AC inverter. The induction generator does not</div>
<div class="l last" style="top:567.00px">require any type of synchronization.</div>
</body></html>
